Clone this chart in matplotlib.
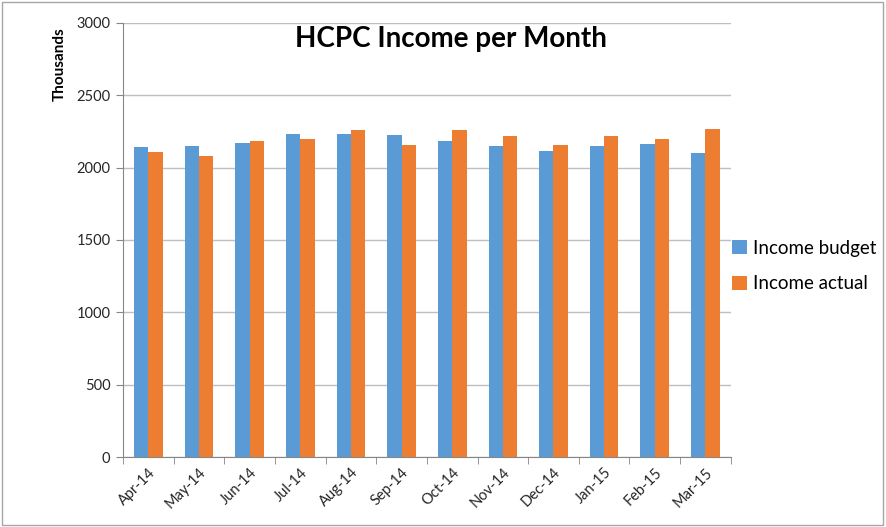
import matplotlib.pyplot as plt
import numpy as np

plt.rcParams['font.family'] = ['Lato', 'DejaVu Sans']

months = ["Apr-14", "May-14", "Jun-14", "Jul-14", "Aug-14", "Sep-14",
          "Oct-14", "Nov-14", "Dec-14", "Jan-15", "Feb-15", "Mar-15"]
income_budget = [2146, 2153, 2171, 2231, 2236, 2224, 2185, 2153, 2116, 2150, 2164, 2100]
income_actual = [2111, 2083, 2183, 2199, 2257, 2160, 2259, 2220, 2160, 2220, 2197, 2264]
y_ticks = [0, 500, 1000, 1500, 2000, 2500, 3000]

blue = '#5B9BD5'
orange = '#ED7D31'
axis_grey = '#868686'

fig = plt.figure(figsize=(8.86, 5.27), dpi=100)
ax = fig.add_axes([0.1388, 0.1328, 0.686, 0.8236])

x = np.arange(len(months))
w = 0.283
ax.bar(x - w / 2, income_budget, w, color=blue, label='Income budget', zorder=3)
ax.bar(x + w / 2, income_actual, w, color=orange, label='Income actual', zorder=3)

ax.set_xlim(-0.5, len(months) - 0.5)
ax.set_ylim(0, 3000)
ax.set_yticks(y_ticks)
ax.set_yticklabels([str(t) for t in y_ticks], fontsize=10.5, color='#262626')
ax.yaxis.grid(True, color='#bfbfbf', linewidth=1, zorder=0)

# category labels at centers, tick marks at category boundaries
ax.set_xticks(x)
ax.set_xticklabels(months, rotation=45, ha='right', rotation_mode='anchor',
                   fontsize=10.5, color='#262626')
ax.tick_params(axis='x', length=0, pad=6)
ax.set_xticks(np.arange(-0.5, len(months)), minor=True)
ax.tick_params(axis='x', which='minor', length=5, color=axis_grey)
ax.tick_params(axis='y', length=5, color=axis_grey, pad=4)

for s in ['top', 'right']:
    ax.spines[s].set_visible(False)
for s in ['left', 'bottom']:
    ax.spines[s].set_color(axis_grey)

fig.text(451 / 886, 1 - 47 / 527, "HCPC Income per Month", fontsize=20,
         fontweight='bold', ha='center', va='baseline', color='#000000')
fig.text(0.068, 0.878, "Thousands", rotation=90, fontsize=11, fontweight='bold',
         ha='center', va='center')

ax.legend(loc='center left', bbox_to_anchor=(0.975, 0.44), frameon=False,
          fontsize=13.5, handlelength=0.75, handleheight=0.75, labelspacing=1.0,
          handletextpad=0.35)

# chart border
fig.patches.append(plt.Rectangle((0.002, 0.003), 0.995, 0.993, transform=fig.transFigure,
                                 fill=False, edgecolor='#a6a6a6', linewidth=1))

plt.savefig('out.png', dpi=100)
